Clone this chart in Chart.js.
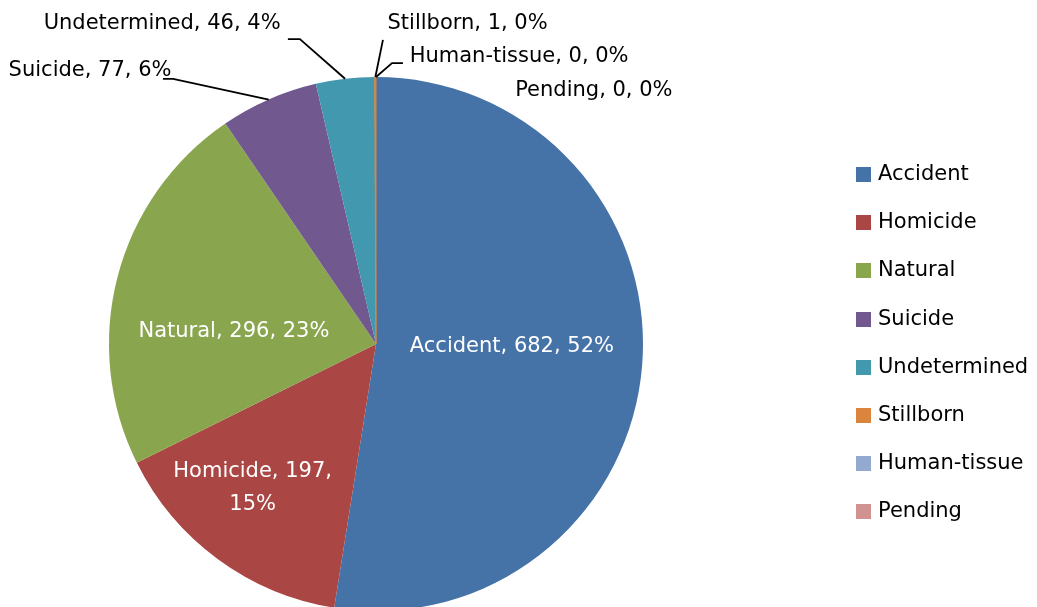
<!DOCTYPE html>
<html>
<head>
<meta charset="utf-8">
<script src="https://cdn.jsdelivr.net/npm/chart.js@4/dist/chart.umd.min.js"></script>
<style>
  html, body { margin: 0; padding: 0; background: #fff; overflow: hidden; }
  #wrap { position: relative; width: 1037px; height: 620px; }
  #legend { position: absolute; left: 856px; top: 0; font-family: "DejaVu Sans", sans-serif; font-size: 21px; color: #000; }
  .item { position: absolute; left: 0; height: 24px; line-height: 24px; white-space: nowrap; }
  .item span.box { position: absolute; left: 0; top: 5px; width: 15px; height: 15px; }
  .item span.txt { position: absolute; left: 22px; top: -1px; }
</style>
</head>
<body>
<div id="wrap">
  <canvas id="pie_chart" width="1037" height="620"></canvas>
  <div id="legend"></div>
</div>
<script>
// chart data
var categories = ["Accident", "Homicide", "Natural", "Suicide", "Undetermined", "Stillborn", "Human-tissue", "Pending"];
var counts = [682, 197, 296, 77, 46, 1, 0, 0];
var percents = [52, 15, 23, 6, 4, 0, 0, 0];
var colors = ["#4572A7", "#AA4643", "#89A54E", "#71588F", "#4198AF", "#DB843D", "#93A9CF", "#D19392"];
// thin outline so the tiny Stillborn slice shows as a line
var borders = [0, 0, 0, 0, 0, 1, 0, 0];

// label placement, in units of the pie radius from its centre (text baseline)
var labelPos = [
    [0.509, 0.030], [-0.462, 0.498], [-0.532, -0.026], [-1.071, -1.004],
    [-0.801, -1.180], [0.343, -1.180], [0.536, -1.056], [0.816, -0.930]
];
var inside = [true, true, true, false, false, false, false, false];
// leader lines (after the point on the slice edge)
var leaders = [
    null, null, null,
    [[-0.760, -0.993], [-0.798, -0.993]],
    [[-0.285, -1.142], [-0.330, -1.142]],
    [[0.026, -1.139]],
    [[0.060, -1.052], [0.101, -1.052]],
    null
];

var sliceLabels = {
    id: "sliceLabels",
    afterDatasetsDraw: function (chart) {
        var ctx = chart.ctx;
        var meta = chart.getDatasetMeta(0);
        ctx.save();
        ctx.font = "21px 'DejaVu Sans', sans-serif";
        ctx.textAlign = "center";
        ctx.textBaseline = "alphabetic";
        meta.data.forEach(function (arc, i) {
            var p = arc.getProps(["x", "y", "startAngle", "endAngle", "outerRadius"], true);
            var r = p.outerRadius;
            var mid = (p.startAngle + p.endAngle) / 2;
            if (leaders[i]) {
                ctx.strokeStyle = "#000";
                ctx.lineWidth = 1.8;
                ctx.beginPath();
                ctx.moveTo(p.x + Math.cos(mid) * r, p.y + Math.sin(mid) * r);
                leaders[i].forEach(function (pt) {
                    ctx.lineTo(p.x + pt[0] * r, p.y + pt[1] * r);
                });
                ctx.stroke();
            }
            ctx.fillStyle = inside[i] ? "#fff" : "#000";
            var lx = p.x + labelPos[i][0] * r;
            var ly = p.y + labelPos[i][1] * r;
            if (i == 1) {
                ctx.fillText(categories[i] + ", " + counts[i] + ",", lx, ly);
                ctx.fillText(percents[i] + "%", lx, ly + 33);
            } else {
                ctx.fillText(categories[i] + ", " + counts[i] + ", " + percents[i] + "%", lx, ly);
            }
        });
        ctx.restore();
    }
};

var ctx1 = document.getElementById("pie_chart");
var myPieChart = new Chart(ctx1, {
    type: "pie",
    data: {
        labels: categories,
        datasets: [{
            data: counts,
            backgroundColor: colors,
            borderColor: colors,
            borderWidth: borders,
            hoverOffset: 0,
            offset: 0
        }]
    },
    options: {
        responsive: false,
        animation: false,
        events: [],
        layout: {
            padding: { left: 108.5, right: 393.5, top: 76.5, bottom: 8.5 }
        },
        plugins: {
            legend: { display: false },
            tooltip: { enabled: false }
        }
    },
    plugins: [sliceLabels]
});

// legend
var legendHtml = "";
for (var i = 0; i < categories.length; i++) {
    var rowTop = 174 + i * 48.2 - 12;
    legendHtml += '<div class="item" style="top:' + rowTop + 'px"><span class="box" style="background:' + colors[i] + '"></span><span class="txt">' + categories[i] + '</span></div>';
}
document.getElementById("legend").innerHTML = legendHtml;
</script>
</body>
</html>
